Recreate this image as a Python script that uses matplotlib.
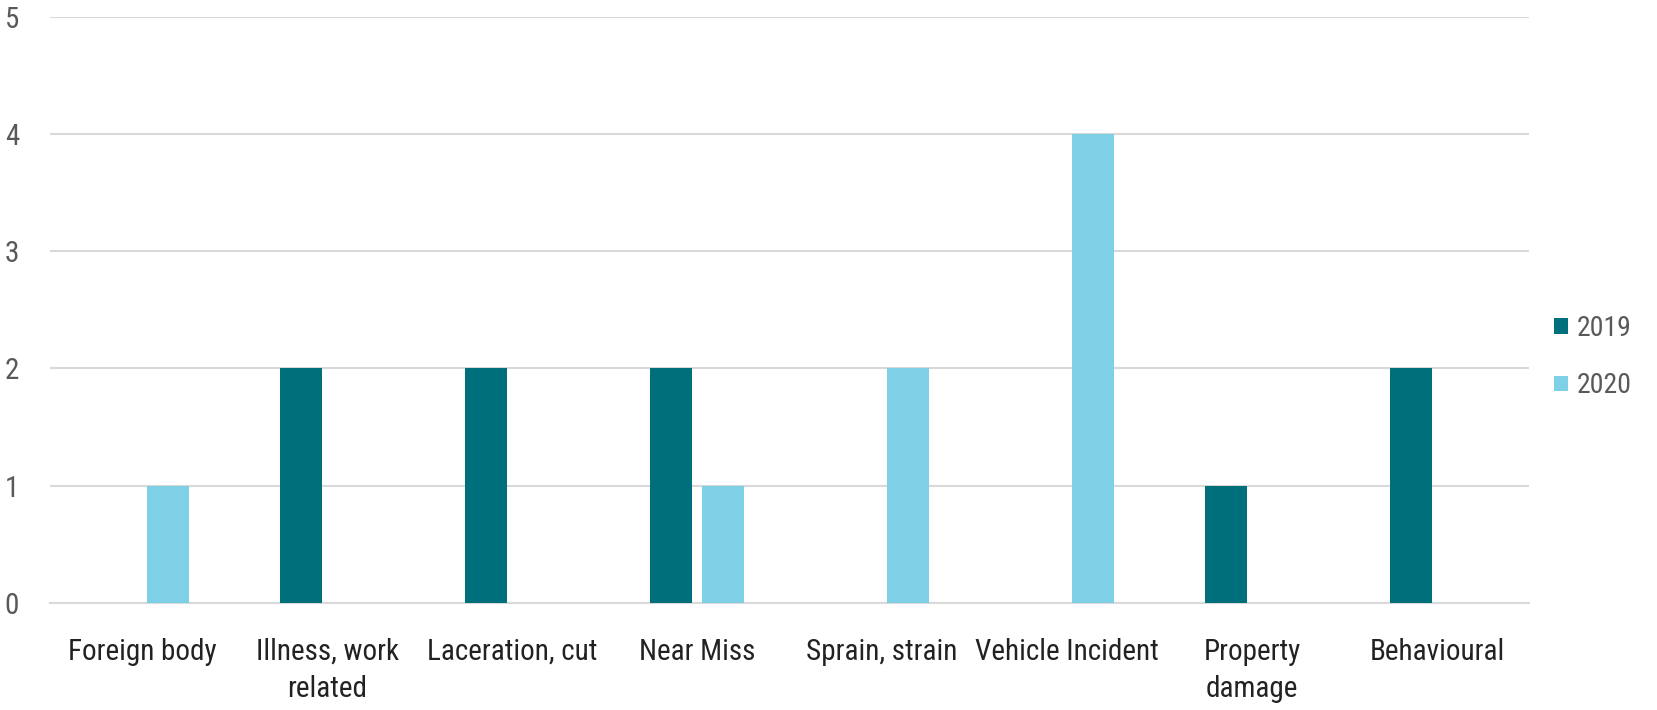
import matplotlib

matplotlib.use("Agg")
import matplotlib.pyplot as plt
import numpy as np

categories = ["Foreign body", "Illness, work\nrelated", "Laceration, cut", "Near Miss",
              "Sprain, strain", "Vehicle Incident", "Property\ndamage", "Behavioural"]
vals_2019 = [0, 2, 2, 2, 0, 0, 1, 2]
vals_2020 = [1, 0, 0, 1, 2, 4, 0, 0]
series_names = ["2019", "2020"]
yticks = [0, 1, 2, 3, 4, 5]

C19 = "#006F7C"
C20 = "#7DD0E6"
FONT = ["Roboto Condensed", "Liberation Sans Narrow", "Roboto", "DejaVu Sans"]

fig = plt.figure(figsize=(16.57, 7.10), dpi=100)
ax = fig.add_axes([0.030, 0.151, 0.893, 0.825])

x = np.arange(len(categories))
w = 0.225
ax.bar(x - 0.14, vals_2019, w, color=C19, label=series_names[0], zorder=3)
ax.bar(x + 0.14, vals_2020, w, color=C20, label=series_names[1], zorder=3)

ax.set_xlim(-0.5, len(categories) - 0.5)
ax.set_ylim(0, 5)
ax.set_yticks(yticks)
ax.yaxis.grid(True, color="#D9D9D9", lw=1.5, zorder=0)
for s in ["top", "right", "left"]:
    ax.spines[s].set_visible(False)
ax.spines["bottom"].set_color("#D9D9D9")
ax.spines["bottom"].set_linewidth(1.5)
ax.tick_params(length=0)
ax.tick_params(axis="y", pad=22)
ax.tick_params(axis="x", pad=25)
ax.set_xticks(x)
ax.set_xticklabels(categories, family=FONT, fontsize=21, color="#222222",
                   linespacing=1.45)
for t in ax.get_yticklabels():
    t.set_family(FONT)
    t.set_fontsize(21)
    t.set_color("#595959")

# legend sits just inside the right edge so the labels stay whole
leg = fig.legend(loc="center left", bbox_to_anchor=(0.938, 0.497), frameon=False,
                 prop={"family": FONT, "size": 20}, handlelength=0.5,
                 handleheight=0.5, handletextpad=0.3, labelspacing=1.1,
                 borderaxespad=0, borderpad=0)
for t in leg.get_texts():
    t.set_color("#595959")

fig.savefig("out.png", dpi=100)
